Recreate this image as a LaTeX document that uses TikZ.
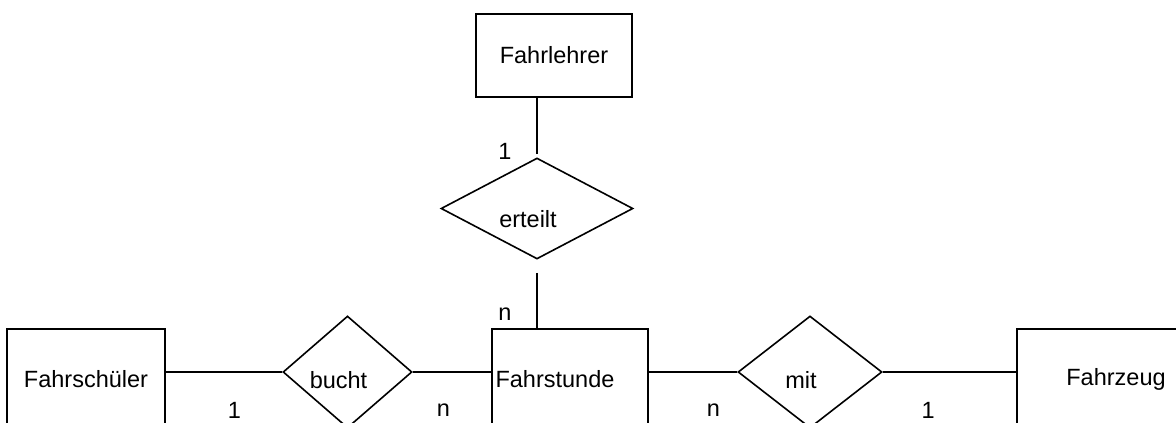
\documentclass[tikz,border=0pt]{standalone}
\usepackage{fontspec}
\setmainfont{Liberation Sans}
\usetikzlibrary{shapes.geometric}

\begin{document}
\begin{tikzpicture}[x=1pt, y=-1pt, line width=1.6pt,
        every node/.style={font=\fontsize{23.5}{28}\selectfont},
        entity/.style={draw, rectangle, inner sep=0pt},
        rel/.style={draw, diamond, inner sep=0pt},
        reltext/.style={xshift=-9pt, yshift=-8pt},
        card/.style={inner sep=0pt}]
        \useasboundingbox (0,0) rectangle (1176,423);
        \clip (0,0) rectangle (1176,423);

        \node[entity, minimum width=156pt, minimum height=83pt] (fahrlehrer) at (554,55.5) {Fahrlehrer};
        \node[rel, minimum width=192pt, minimum height=101pt, label={[reltext, yshift=-3pt]center:erteilt}] (erteilt) at (537,208.5) {};

        \node[entity, minimum width=158pt, minimum height=100pt] (fahrschueler) at (86,379) {Fahrschüler};
        \node[rel, minimum width=129pt, minimum height=112pt, label={[reltext]center:bucht}] (bucht) at (347.5,372) {};
        \node[entity, minimum width=156pt, minimum height=100pt, label={[xshift=-15pt]center:Fahrstunde}] (fahrstunde) at (570,379) {};
        \node[rel, minimum width=144pt, minimum height=112pt, label={[reltext]center:mit}] (mit) at (810,372) {};
        \node[entity, minimum width=198pt, minimum height=100pt] (fahrzeug) at (1116,379) {Fahrzeug};

        \draw[shorten <=3pt] (erteilt.north) -- node[card, pos=0, xshift=-32pt, yshift=5.5pt] {1} (erteilt.north |- fahrlehrer.south);
        \draw[shorten <=13pt] (erteilt.south) -- node[card, pos=1, xshift=-32pt, yshift=14pt] {n} (erteilt.south |- fahrstunde.north);

        \draw (fahrschueler.east |- bucht.west) -- node[card, pos=.59, yshift=-38pt] {1} (bucht.west);
        \draw (bucht.east) -- node[card, pos=.39, yshift=-38pt] {n} (fahrstunde.west |- bucht.east);
        \draw (fahrstunde.east |- mit.west) -- node[card, pos=.73, yshift=-38pt] {n} (mit.west);
        \draw (mit.east) -- node[card, pos=.34, yshift=-38pt] {1} (fahrzeug.west |- mit.east);
    \end{tikzpicture}
\end{document}
